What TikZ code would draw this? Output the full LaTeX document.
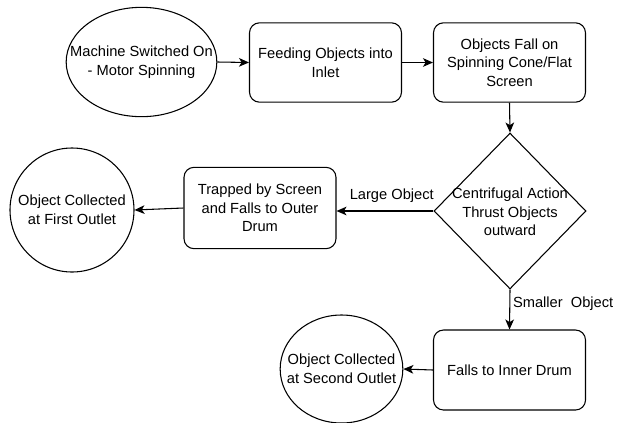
\documentclass[tikz,border=0pt]{standalone}
\usepackage{fontspec}
\setmainfont{Liberation Sans}
\usetikzlibrary{arrows.meta,shapes.geometric}
\begin{document}
\begin{tikzpicture}[x=0.75pt,y=-0.75pt,
  txt/.style={font=\fontsize{11}{14}\selectfont, align=center, inner sep=0pt},
  box/.style={draw, line width=0.8pt, rounded corners=7.5pt, minimum width=114pt, minimum height=59.5pt, inner sep=0pt},
  oval/.style={draw, line width=0.8pt, ellipse, inner sep=0pt},
  arr/.style={draw, line width=0.8pt, -{Stealth[length=7.5pt,width=6.5pt,inset=2pt]}}
]
\useasboundingbox (0,0) rectangle (624,422);
% nodes
\node[oval, minimum width=113pt, minimum height=82pt] (e1) at (141.5,62) {};
\node[txt] (e1t) at (141.5,62) {Machine Switched On\\- Motor Spinning};
\node[box, txt] (b2) at (325.5,62.5) {Feeding Objects into\\Inlet};
\node[box, txt] (b3) at (509.5,62.5) {Objects Fall on\\Spinning Cone/Flat\\Screen};
\node[draw, line width=0.8pt, diamond, minimum width=114pt, minimum height=117pt, inner sep=0pt] (d) at (510,211) {};
\node[txt] (dt) at (510,212) {Centrifugal Action\\Thrust Objects\\outward};
\node[box, txt, minimum height=61pt] (b4) at (260,208) {Trapped by Screen\\and Falls to Outer\\Drum};
\node[oval, minimum width=93pt, minimum height=93pt] (c1) at (72,210) {};
\node[txt] (c1t) at (72,210) {Object Collected\\at First Outlet};
\node[box, txt, minimum height=60pt] (b5) at (509.5,370) {Falls to Inner Drum};
\node[oval, minimum width=92pt, minimum height=81pt] (e2) at (341.5,369) {};
\node[txt] (e2t) at (341.5,369) {Object Collected\\at Second Outlet};
% connectors
\draw[arr] (e1.east) -- (b2.west);
\draw[arr] (b2.east) -- (b3.west);
\draw[arr] (b3.south) -- (d.north);
\draw[arr] (d.west) -- node[txt, above=6pt, pos=0.43] (l1) {Large Object} (d.west -| b4.east);
\draw[arr] (b4.west) -- (c1.east);
\draw[arr] (d.south) -- node[txt, right=2pt, pos=0.35] (l2) {Smaller\ \ Object} (b5.north);
\draw[arr] (b5.west) -- (e2.east);
\end{tikzpicture}
\end{document}
